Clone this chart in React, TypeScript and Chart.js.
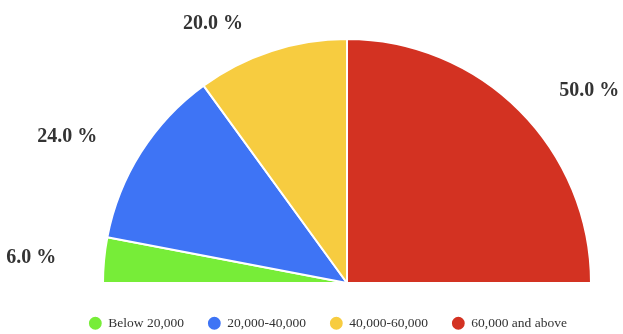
import React, { useEffect, useRef } from 'react';
import { Chart, registerables } from 'chart.js';

Chart.register(...registerables);

const categories = ['Below 20,000', '20,000-40,000', '40,000-60,000', '60,000 and above'];
const shares = [6, 24, 20, 50];
const sliceColors = ['#77ed38', '#3e74f5', '#f7cc40', '#d33222'];

const serif = '"Liberation Serif", "Times New Roman", Times, serif';

export default function App() {
  const ref = useRef<HTMLCanvasElement>(null);

  useEffect(() => {
    if (!ref.current) return;
    const total = shares.reduce((a, b) => a + b, 0);

    const outLabels = {
      id: 'outLabels',
      afterDatasetsDraw(chart: any) {
        const ctx = chart.ctx;
        const meta = chart.getDatasetMeta(0);
        ctx.save();
        ctx.font = 'bold 20px ' + serif;
        ctx.fillStyle = '#333333';
        ctx.textBaseline = 'middle';
        meta.data.forEach((arc: any, i: number) => {
          const { x, y, startAngle, endAngle, outerRadius } = arc.getProps(
            ['x', 'y', 'startAngle', 'endAngle', 'outerRadius'],
            true
          );
          const mid = (startAngle + endAngle) / 2;
          const R = outerRadius + 28;
          const px = x + Math.cos(mid) * R;
          const py = y + Math.sin(mid) * R;
          const right = Math.cos(mid) >= 0;
          ctx.textAlign = right ? 'left' : 'right';
          const text = ((shares[i] / total) * 100).toFixed(1) + ' %';
          ctx.fillText(text, px + (right ? 20 : -20), py);
        });
        ctx.restore();
      },
    };

    const shiftLegend = {
      id: 'shiftLegend',
      afterLayout(chart: any) {
        const l = chart.legend;
        if (l) {
          l.left -= 19;
          l.right -= 19;
        }
      },
    };

    const chart = new Chart(ref.current, {
      type: 'pie',
      data: {
        labels: categories,
        datasets: [
          {
            data: shares,
            backgroundColor: sliceColors,
            borderColor: '#ffffff',
            borderWidth: 2,
          },
        ],
      },
      options: {
        responsive: false,
        animation: false,
        rotation: -90,
        circumference: 180,
        radius: 244,
        layout: { padding: { left: 71, right: 0, top: 29.5, bottom: 0 } },
        plugins: {
          tooltip: { enabled: false },
          legend: {
            position: 'bottom',
            labels: {
              usePointStyle: true,
              pointStyle: 'circle',
              boxWidth: 12.5,
              boxHeight: 10.5,
              padding: 24,
              color: '#333333',
              font: { family: serif, size: 13.5 },
            },
          },
        },
      },
      plugins: [outLabels, shiftLegend],
    } as any);

    return () => chart.destroy();
  }, []);

  return (
    <div
      style={{
        position: 'fixed',
        left: 0,
        top: 0,
        width: 623,
        height: 334,
        overflow: 'hidden',
        background: '#ffffff',
      }}
    >
      <canvas ref={ref} width={623} height={340} style={{ display: 'block' }} />
    </div>
  );
}
